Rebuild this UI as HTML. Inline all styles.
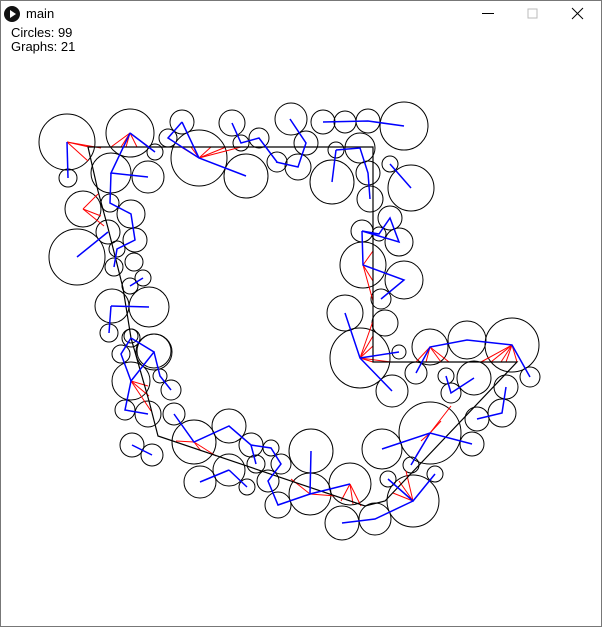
<!DOCTYPE html>
<html><head><meta charset="utf-8">
<style>
html,body{margin:0;padding:0;background:#fff;}
#win{position:relative;width:600px;height:625px;border:1px solid #777;overflow:hidden;font-family:"Liberation Sans",sans-serif;}
.t{position:absolute;font-size:13px;color:#000;}
</style></head>
<body>
<div id="win">
<svg width="600" height="625" style="position:absolute;left:0;top:0">
 <g><circle cx="11" cy="13" r="8" fill="#111"/><polygon points="9,9 9,17 15,13" fill="#fff"/></g>
 <g><line x1="481" y1="12.5" x2="493" y2="12.5" stroke="#000" stroke-width="1"/></g>
 <g><rect x="527" y="8" width="9" height="9" fill="none" stroke="#bbb"/></g>
 <g><line x1="571" y1="7" x2="582" y2="18" stroke="#000"/><line x1="582" y1="7" x2="571" y2="18" stroke="#000"/></g>
 <g id="circles"></g>
 <g id="red"></g>
 <path d="M87,146 L372,146 L372,361 L516,361 L384,500 L364,505 L157,435 L148,400 L130,337 L122,287 L107,227 L97,190 Z" fill="none" stroke="#000" stroke-width="1.2"/>
 <g id="blue"></g>
</svg>
<div class="t" style="left:25px;top:5px;font-size:13px">main</div>
<div class="t" style="left:10px;top:24px">Circles: 99</div>
<div class="t" style="left:10px;top:38px">Graphs: 21</div>
</div>
<script>
const circleX=[66,129,67,110,147,154,181,167,198,231,240,258,245,276,290,82,109,130,107,134,76,116,113,133,142,129,111,148,108,130,153,322,344,367,403,305,297,335,359,331,367,369,389,410,389,361,378,398,362,403,380,344,384,359,391,398,415,429,466,511,529,445,450,473,505,476,501,429,471,381,410,434,387,412,374,341,349,310,309,277,280,270,255,267,250,246,228,228,199,193,173,147,124,130,153,120,130,159,170,131,151];
const circleY=[141,132,177,172,176,151,121,137,157,122,142,137,175,161,118,208,202,213,231,239,256,248,266,261,277,285,305,306,332,335,350,121,121,120,125,142,166,149,147,181,172,198,163,187,217,230,233,241,264,279,298,312,322,357,390,351,372,346,339,344,376,375,392,377,386,418,412,432,443,448,464,473,478,500,518,522,483,450,493,504,463,447,463,480,444,486,425,469,481,441,413,413,409,380,351,353,337,375,389,444,454];
const circleR=[28,24,9,20,16,8,12,9,28,13,8,10,22,10,16,18,9,14,12,12,28,8,9,9,8,8,17,20,9,7,17,12,11,12,24,12,13,8,15,22,12,13,8,23,12,11,7,14,23,19,10,18,13,30,16,7,11,18,19,27,10,8,10,17,12,12,14,31,12,20,8,8,8,26,16,17,21,22,21,13,10,8,9,11,12,8,17,16,16,22,11,13,10,19,18,9,9,7,10,12,11];
const blueLines=[
[[66,141],[67,177]],[[129,132],[110,172],[147,176]],[[129,132],[154,151]],[[110,172],[109,202],[130,213],[134,239],[116,248],[113,266]],[[107,231],[76,256]],[[142,277],[129,285]],[[110,305],[148,306]],[[110,305],[108,332]],
[[181,121],[167,137],[198,157],[245,175]],[[181,121],[198,157]],[[231,122],[240,142],[258,137],[276,161]],
[[289,118],[305,142],[297,166],[275,161]],[[322,121],[367,120],[403,125]],[[335,149],[331,181]],[[335,149],[359,147],[367,172],[369,198]],[[389,163],[410,187]],
[[361,230],[378,233],[389,217],[398,241],[361,230]],[[361,230],[362,264],[403,279],[380,298]],[[344,312],[359,357],[391,390]],[[359,357],[398,351]],
[[415,372],[429,346],[466,339],[511,344],[529,376]],[[445,375],[450,392],[473,377]],[[476,418],[501,412],[505,386]],
[[381,448],[429,432],[471,443]],[[429,432],[410,464]],[[387,478],[412,500],[434,473]],[[412,500],[374,518],[341,522]],
[[310,450],[309,493],[349,483]],[[309,493],[277,504],[267,480],[280,463],[270,447],[250,444],[228,425],[193,441],[173,413]],[[255,463],[250,444]],[[228,469],[199,481]],[[228,469],[246,486]],
[[131,444],[151,454]],[[130,337],[153,351],[130,380],[124,409],[147,413]],[[130,337],[120,353],[130,380]],[[153,351],[159,375],[170,389]]];
const redFans=[
[[66,141],[[88,146],[100,147],[87,160]]],[[129,132],[[110,146],[120,146],[136,146],[148,146],[125,146]]],[[198,157],[[180,146],[210,146],[225,146],[240,146],[190,146]]],
[[82,208],[[97,193],[100,215],[103,225]]],[[359,357],[[372,320],[372,335],[372,345],[372,361],[390,361]]],[[429,346],[[415,361],[425,361],[440,361],[448,361]]],
[[511,344],[[480,361],[490,361],[500,361],[516,361],[505,361]]],[[429,432],[[420,440],[440,420],[415,455],[450,405]]],[[412,500],[[392,492],[398,480],[405,470]]],
[[193,441],[[175,440],[200,450],[215,455]]],[[309,493],[[290,478],[320,490],[335,495]]],[[349,483],[[340,500],[352,503],[360,505]]],[[362,264],[[372,250],[372,280],[372,300]]],[[130,380],[[147,385],[148,395],[150,410]]]];
const NS='http://www.w3.org/2000/svg';
const gc=document.getElementById('circles');
for(let i=0;i<circleX.length;i++){
 const c=document.createElementNS(NS,'circle');
 c.setAttribute('cx',circleX[i]);c.setAttribute('cy',circleY[i]);c.setAttribute('r',circleR[i]);
 c.setAttribute('fill','none');c.setAttribute('stroke','#000');c.setAttribute('stroke-width','1');
 
 
 gc.appendChild(c);
}
const gb=document.getElementById('blue');
blueLines.forEach(p=>{
 const l=document.createElementNS(NS,'polyline');
 l.setAttribute('points',p.map(q=>q.join(',')).join(' '));
 l.setAttribute('fill','none');l.setAttribute('stroke','#0000ff');l.setAttribute('stroke-width','1.5');
 
 
 gb.appendChild(l);
});
const gr=document.getElementById('red');
redFans.forEach(f=>{
 f[1].forEach(t=>{
  const l=document.createElementNS(NS,'line');
  l.setAttribute('x1',f[0][0]);l.setAttribute('y1',f[0][1]);l.setAttribute('x2',t[0]);l.setAttribute('y2',t[1]);
  l.setAttribute('stroke','#ff0000');l.setAttribute('stroke-width','1');
  
  
  gr.appendChild(l);
 });
});
</script>
</body></html>
